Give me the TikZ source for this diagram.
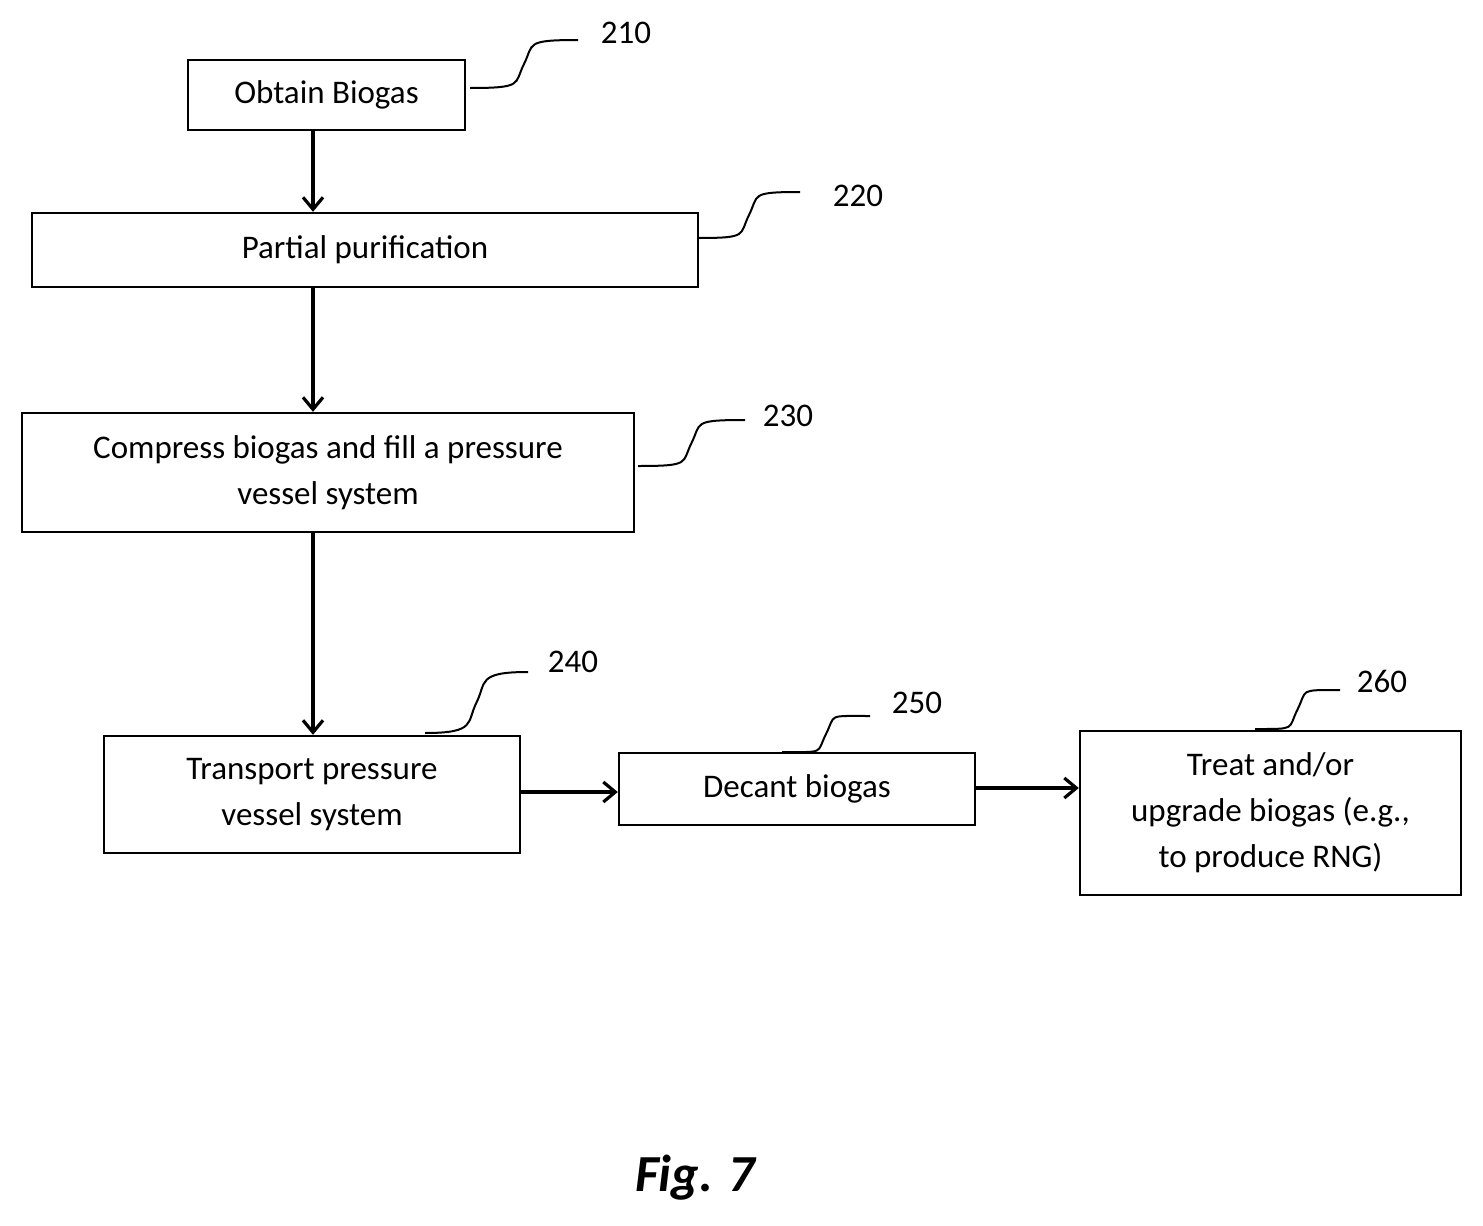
\documentclass[tikz,border=0pt]{standalone}
\usepackage{fontspec}
\setmainfont{Carlito}
\usetikzlibrary{arrows.meta,calc}
\begin{document}
\begin{tikzpicture}[x=0.5pt,y=-0.5pt,
  box/.style={draw,line width=1.2pt,inner sep=0pt,align=center,font=\fontsize{16.5}{23}\selectfont},
  arr/.style={line width=1.6pt,->,>={Straight Barb[length=6pt,width=10pt]}},
  lead/.style={line width=1pt},
  lab/.style={font=\fontsize{16.5}{20}\selectfont}]
\useasboundingbox (0,0) rectangle (1483,1226);
\node[box,minimum width=138.5pt,minimum height=35pt] (b210) at (326.5,95) {Obtain Biogas};
\node[box,minimum width=333pt,minimum height=37pt] (b220) at (365,250) {Partial purification};
\node[box,minimum width=306pt,minimum height=59.5pt] (b230) at (328,472.5) {Compress biogas and fill a pressure\\vessel system};
\node[box,minimum width=208pt,minimum height=58.5pt] (b240) at (312,794.5) {Transport pressure\\vessel system};
\node[box,minimum width=178pt,minimum height=36pt] (b250) at (797,789) {Decant biogas};
\node[box,minimum width=190.5pt,minimum height=82pt] (b260) at (1270.5,813) {Treat and/or\\upgrade biogas (e.g.,\\to produce RNG)};
\draw[arr] (b210.south -| 313,0) -- (b220.north -| 313,0);
\draw[arr] (b220.south -| 313,0) -- (b230.north -| 313,0);
\draw[arr] (b230.south -| 313,0) -- (b240.north -| 313,0);
\draw[arr] (b240.east |- 0,792) -- (b250.west |- 0,792);
\draw[arr] (b250.east |- 0,788) -- (b260.west |- 0,788);
\node[lab] (l210) at (626,33) {210};
\node[lab] (l220) at (858,196) {220};
\node[lab] (l230) at (788,416) {230};
\node[lab] (l240) at (573,662) {240};
\node[lab] (l250) at (917,703) {250};
\node[lab] (l260) at (1382,681) {260};
\coordinate (c210) at (470,88); \coordinate (e210) at (578,40);
\coordinate (c220) at (698,238); \coordinate (e220) at (800,192);
\coordinate (c230) at (638,466); \coordinate (e230) at (745,420);
\coordinate (c240) at (425,733); \coordinate (e240) at (528,672);
\coordinate (c250) at (782,752); \coordinate (e250) at (870,716);
\coordinate (c260) at (1255,729); \coordinate (e260) at (1340,690);
\foreach \n in {210,220,230,240,250,260}{
  \draw[lead] (c\n) .. controls ($(c\n)!0.5!(c\n-|e\n)$) and ($(c\n)!0.5!(e\n)+(-10,20)$) .. ($(c\n)!0.5!(e\n)$) .. controls ($(c\n)!0.5!(e\n)+(10,-20)$) and ($(e\n)!0.5!(e\n-|c\n)$) .. (e\n);
}
\node[font=\fontsize{26}{30}\selectfont\bfseries\itshape] (fig) at (695,1178) {Fig. 7};
\end{tikzpicture}
\end{document}
